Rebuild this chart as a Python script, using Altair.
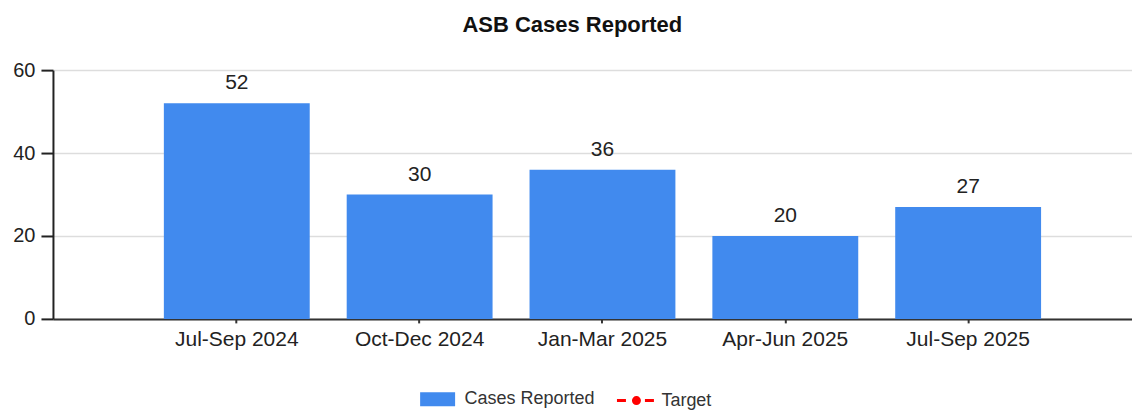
import altair as alt
import pandas as pd

quarters = ["Jul-Sep 2024", "Oct-Dec 2024", "Jan-Mar 2025", "Apr-Jun 2025", "Jul-Sep 2025"]
cases = [52, 30, 36, 20, 27]
target = [None, None, None, None, None]
series_names = ["Cases Reported", "Target"]
series_colors = ["#418AEE", "#FF0000"]
y_ticks = [0, 20, 40, 60]

cases_df = pd.DataFrame({"quarter": quarters, "value": cases, "series": "Cases Reported"})
target_df = pd.DataFrame({"quarter": quarters, "value": target, "series": "Target"})

FONT = "Liberation Sans"
rect_path = "M-0.85,-0.55H2.35V0.55H-0.85Z"
dash_path = "M-1,0H-0.1M1.8,0H2.7M0.65,0A0.3,0.3,0,1,1,1.25,0A0.3,0.3,0,1,1,0.65,0Z"

x_scale = alt.Scale(domain=quarters, paddingInner=0.2022, paddingOuter=0.5519, align=0.5495)
y_scale = alt.Scale(domain=[0, 60], nice=False)

x_enc = alt.X("quarter:N", sort=quarters, scale=x_scale,
              axis=alt.Axis(title=None, labelAngle=0, labelFontSize=21, labelColor="#222",
                            labelFont=FONT, tickSize=4, tickColor="#333", tickWidth=2,
                            domainColor="#333", domainWidth=2, labelPadding=6, grid=False))
y_enc = alt.Y("value:Q", scale=y_scale,
              axis=alt.Axis(title=None, values=y_ticks, labelFontSize=20, labelColor="#222",
                            labelFont=FONT, tickSize=12, tickColor="#222", tickWidth=2,
                            domainColor="#222", domainWidth=2, labelPadding=6,
                            grid=True, gridColor="#dddddd", gridWidth=1.5))

bars = alt.Chart(cases_df).mark_bar(color=series_colors[0]).encode(x=x_enc, y=y_enc)
labels = alt.Chart(cases_df).mark_text(dy=-14, baseline="alphabetic", fontSize=21,
                                       color="#222", font=FONT).encode(
    x=alt.X("quarter:N", sort=quarters), y="value:Q", text="value:Q")

leg = alt.Legend(title=None, orient="none", legendX=366, legendY=318, direction="horizontal",
                 symbolSize=400, symbolStrokeWidth=3, labelFontSize=18, labelColor="#333",
                 labelFont=FONT, labelOffset=23, columnPadding=15, padding=0)

target_pts = alt.Chart(target_df).mark_point(filled=True, opacity=1).encode(
    x=alt.X("quarter:N", sort=quarters),
    y="value:Q",
    fill=alt.Fill("series:N", scale=alt.Scale(domain=series_names, range=series_colors), legend=leg),
    stroke=alt.Stroke("series:N", scale=alt.Scale(domain=series_names, range=series_colors), legend=leg),
    shape=alt.Shape("series:N", scale=alt.Scale(domain=series_names, range=[rect_path, dash_path]), legend=leg),
)

chart = alt.layer(bars, labels, target_pts).properties(
    width=1080, height=249,
    title=alt.TitleParams("ASB Cases Reported", font=FONT, fontSize=22, fontWeight="bold",
                          color="#111", anchor="middle", frame="bounds", offset=23),
    padding={"left": 4, "top": 6, "right": 0, "bottom": 0},
).configure_view(stroke=None)

chart.save("out.html", embed_options={"renderer": "svg", "actions": False})
